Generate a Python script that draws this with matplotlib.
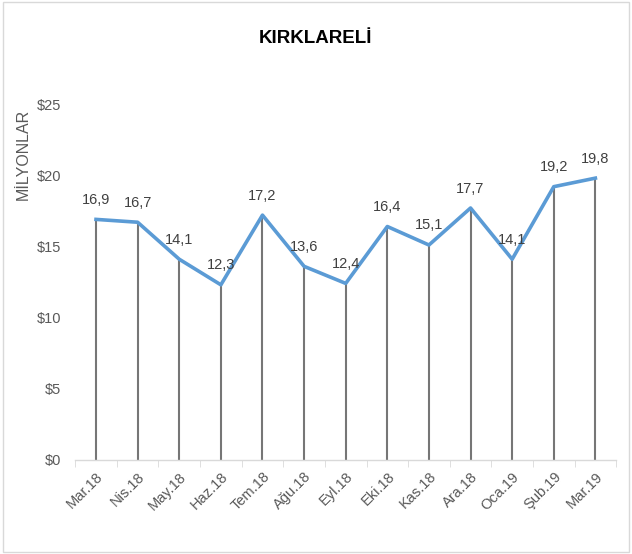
import matplotlib
matplotlib.use('Agg')
import matplotlib.pyplot as plt
from matplotlib.patches import Rectangle

plt.rcParams['font.family'] = ['Liberation Sans', 'DejaVu Sans']

# Datos
months = ['Mar.18', 'Nis.18', 'May.18', 'Haz.18', 'Tem.18', 'Ağu.18', 'Eyl.18',
          'Eki.18', 'Kas.18', 'Ara.18', 'Oca.19', 'Şub.19', 'Mar.19']
values = [16.9, 16.7, 14.1, 12.3, 17.2, 13.6, 12.4, 16.4, 15.1, 17.7, 14.1, 19.2, 19.8]
yticks = [0, 5, 10, 15, 20, 25]
ytick_labels = ['$0', '$5', '$10', '$15', '$20', '$25']

fig = plt.figure(figsize=(6.32, 5.54), dpi=100)
ax = fig.add_axes([0.119, 0.170, 0.856, 0.642])

x = list(range(len(months)))

# lineas verticales hasta el eje
ax.vlines(x, 0, values, color='#767676', linewidth=1.5, zorder=1)
ax.plot(x, values, color='#5B9BD5', linewidth=2.6, zorder=2)

for xi, v in zip(x, values):
    ax.annotate(f'{v:.1f}'.replace('.', ','), (xi, v), xytext=(0, 9),
                textcoords='offset points', ha='center', va='bottom',
                fontsize=10.5, color='#404040')

ax.set_xlim(-0.5, len(months) - 0.5)
ax.set_ylim(0, 25)
ax.set_yticks(yticks)
ax.set_yticklabels(ytick_labels, fontsize=10.5, color='#595959')
ax.set_xticks(x)
ax.set_xticklabels(months, rotation=45, ha='right', rotation_mode='anchor',
                   fontsize=10.5, color='#595959')
ax.set_xticks([i - 0.5 for i in range(len(months) + 1)], minor=True)
ax.tick_params(axis='x', which='major', length=0, pad=7)
ax.tick_params(axis='x', which='minor', length=5, color='#D9D9D9')
ax.tick_params(axis='y', length=0, pad=10)

for s in ['top', 'right', 'left']:
    ax.spines[s].set_visible(False)
ax.spines['bottom'].set_color('#D9D9D9')
ax.spines['bottom'].set_linewidth(1)

fig.text(0.5, 0.931, 'KIRKLARELİ', ha='center', va='center',
         fontsize=13.5, fontweight='bold', color='black')
fig.text(0.036, 0.722, 'MİLYONLAR', rotation=90, ha='center', va='center',
         fontsize=11.5, color='#595959')

fig.patches.append(Rectangle((0.004, 0.004), 0.992, 0.992, transform=fig.transFigure,
                             fill=False, edgecolor='#D9D9D9', linewidth=1))

plt.savefig('out.png', dpi=100)
